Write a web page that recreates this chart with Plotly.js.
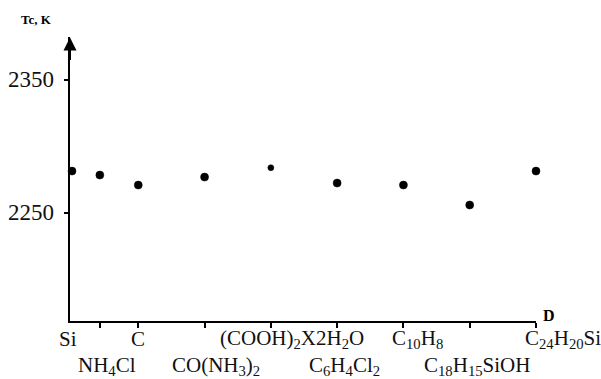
<!DOCTYPE html>
<html>
<head>
<meta charset="utf-8">
<script src="https://cdn.plot.ly/plotly-3.0.1.min.js"></script>
<style>html,body{margin:0;padding:0;background:#fff;}#chart{width:601px;height:379px;}</style>
</head>
<body>
<div id="chart"></div>
<script>
// Data
var compounds = ['Si', 'NH<sub>4</sub>Cl', 'C', 'CO(NH<sub>3</sub>)<sub>2</sub>', '(COOH)<sub>2</sub>X2H<sub>2</sub>O',
                 'C<sub>6</sub>H<sub>4</sub>Cl<sub>2</sub>', 'C<sub>10</sub>H<sub>8</sub>', 'C<sub>18</sub>H<sub>15</sub>SiOH', 'C<sub>24</sub>H<sub>20</sub>Si'];
var dValues = [0, 0.42, 1, 2, 3, 4, 5, 6, 7];
var tcValues = [2281.5, 2278.5, 2271, 2277, 2284, 2272.5, 2271, 2256, 2281.5];
var yTickVals = [2250, 2350];
var yTickText = ['2250', '2350'];
var labelRow = [0, 1, 0, 1, 0, 1, 0, 1, 0];

// label styling tweaks (pixel offsets of the labels, not data)
var labelXShift = [-4, 7, 0, 11, 21, 7, 14, 7, 27];
var markerSizes = [8, 8, 8, 8, 6, 8, 8, 8, 8];

var serif = 'Liberation Serif';

var trace = {
  x: dValues,
  y: tcValues,
  mode: 'markers',
  type: 'scatter',
  marker: {color: '#000', size: markerSizes, opacity: 1, line: {width: 0.5, color: '#000'}},
  cliponaxis: false,
  hoverinfo: 'skip'
};

var annotations = [];
for (var i = 0; i < compounds.length; i++) {
  annotations.push({
    x: dValues[i], xref: 'x', y: 0, yref: 'paper',
    text: compounds[i], showarrow: false,
    xanchor: 'center', yanchor: 'middle',
    xshift: labelXShift[i], yshift: labelRow[i] === 0 ? -18 : -45,
    font: {family: serif, size: 21, color: '#111'}
  });
}
// y tick labels
for (var j = 0; j < yTickVals.length; j++) {
  annotations.push({
    x: 0, xref: 'paper', y: yTickVals[j], yref: 'y',
    text: yTickText[j], showarrow: false,
    xanchor: 'right', yanchor: 'middle', xshift: -14,
    font: {family: serif, size: 23, color: '#111'}
  });
}
// y-axis arrow head
annotations.push({
  x: -0.03, xref: 'x', y: 2382, yref: 'y', ax: 0, ay: 24,
  text: '', showarrow: true, arrowhead: 2, arrowsize: 1.3, arrowwidth: 2, arrowcolor: '#000'
});
annotations.push({
  x: -0.071, xref: 'paper', y: 1.06, yref: 'paper', text: '<b>Tc, K</b>', showarrow: false,
  xanchor: 'center', yanchor: 'middle', font: {family: serif, size: 13, color: '#000'}
});
annotations.push({
  x: 1.01, xref: 'paper', y: 0.02, yref: 'paper', text: '<b>D</b>', showarrow: false,
  xanchor: 'left', yanchor: 'middle', font: {family: serif, size: 16, color: '#000'}
});

var layout = {
  width: 601, height: 379,
  margin: {l: 70, r: 65, t: 37, b: 58},
  paper_bgcolor: '#fff', plot_bgcolor: '#fff',
  showlegend: false,
  font: {family: serif},
  xaxis: {
    range: [-0.03, 7.0], showgrid: false, zeroline: false,
    showline: true, linecolor: '#000', linewidth: 2,
    tickvals: dValues.slice(1), ticktext: dValues.slice(1).map(function(){return '';}),
    ticks: 'outside', ticklen: 5, tickwidth: 2, tickcolor: '#000'
  },
  yaxis: {
    range: [2168.8, 2382.3], showgrid: false, zeroline: false,
    showline: true, linecolor: '#000', linewidth: 2,
    tickvals: yTickVals, showticklabels: false,
    ticks: 'outside', ticklen: 4, tickwidth: 1.5, tickcolor: '#000'
  },
  annotations: annotations
};

Plotly.newPlot('chart', [trace], layout, {staticPlot: true, displayModeBar: false});
</script>
</body>
</html>
